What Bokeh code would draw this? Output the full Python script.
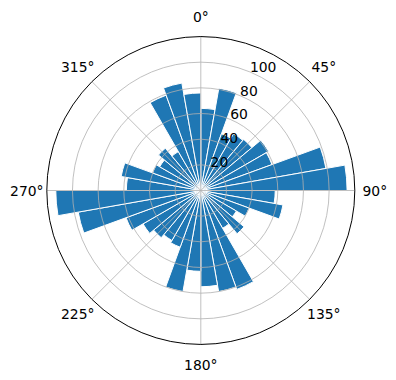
import numpy as np
from bokeh.plotting import figure
from bokeh.models import Range1d, ColumnDataSource
from bokeh.core.properties import value
from bokeh.embed import file_html
from bokeh.resources import INLINE

# ---- data (compass bins, clockwise from north) ----
bin_start_deg = list(range(0, 360, 10))
bin_width_deg = 10
radii = [64, 81, 47, 51, 52, 61, 59, 99, 114,
         58, 65, 40, 32, 44, 34, 82, 80, 75,
         63, 80, 47, 45, 48, 52, 62, 97, 113,
         58, 63, 40, 37, 43, 35, 79, 85, 76]
r_ticks = [20, 40, 60, 80, 100]
r_tick_labels = ["20", "40", "60", "80", "100"]
r_max = 120
theta_ticks_deg = [0, 45, 90, 135, 180, 225, 270, 315]
theta_tick_labels = ["0°", "45°", "90°", "135°", "180°", "225°", "270°", "315°"]
r_label_pos_deg = 22.5

# ---- layout ----
W, H = 396, 380
cx_px, cy_px = 200.3, 190.0
outer_px = 154.0
scale = outer_px / r_max  # px per data unit

p = figure(width=W, height=H,
           x_range=Range1d(-cx_px / scale, (W - cx_px) / scale),
           y_range=Range1d(-(H - cy_px) / scale, cy_px / scale),
           output_backend="svg", toolbar_location=None, min_border=0,
           x_axis_location=None, y_axis_location=None)
p.grid.visible = False
p.outline_line_color = None
p.background_fill_color = "white"
p.border_fill_color = "white"

# bars (compass -> math angles)
b = np.array(bin_start_deg, dtype=float)
start = np.deg2rad(90 - (b + bin_width_deg))
end = np.deg2rad(90 - b)
src = ColumnDataSource(dict(r=radii, s=start, e=end))
p.wedge(x=0, y=0, radius="r", start_angle="s", end_angle="e", source=src,
        fill_color="#1f77b4", line_color="white", line_width=1)

# grid circles
p.circle(x=[0] * len(r_ticks), y=[0] * len(r_ticks), radius=r_ticks,
         fill_color=None, line_color="#b0b0b0", line_width=0.8)
# radial grid lines
th = np.deg2rad(theta_ticks_deg)
p.segment(x0=0, y0=0, x1=r_max * np.sin(th), y1=r_max * np.cos(th),
          line_color="#b0b0b0", line_width=0.8)
# outer spine
p.circle(x=[0], y=[0], radius=[r_max], fill_color=None,
         line_color="black", line_width=1)

# theta labels
lab_r = 174.0 / scale
p.text(x=lab_r * np.sin(th), y=lab_r * np.cos(th), text=theta_tick_labels,
       text_font=value("DejaVu Sans"), text_font_size="13.9px",
       text_align="center", text_baseline="middle", text_color="black")

# radial labels
rl = np.deg2rad(r_label_pos_deg)
rt = np.array(r_ticks, dtype=float)
p.text(x=rt * np.sin(rl), y=rt * np.cos(rl), text=r_tick_labels,
       text_font=value("DejaVu Sans"), text_font_size="13.9px",
       text_align="left", text_baseline="bottom", text_color="black")

open("out.html", "w").write(file_html(p, INLINE))
